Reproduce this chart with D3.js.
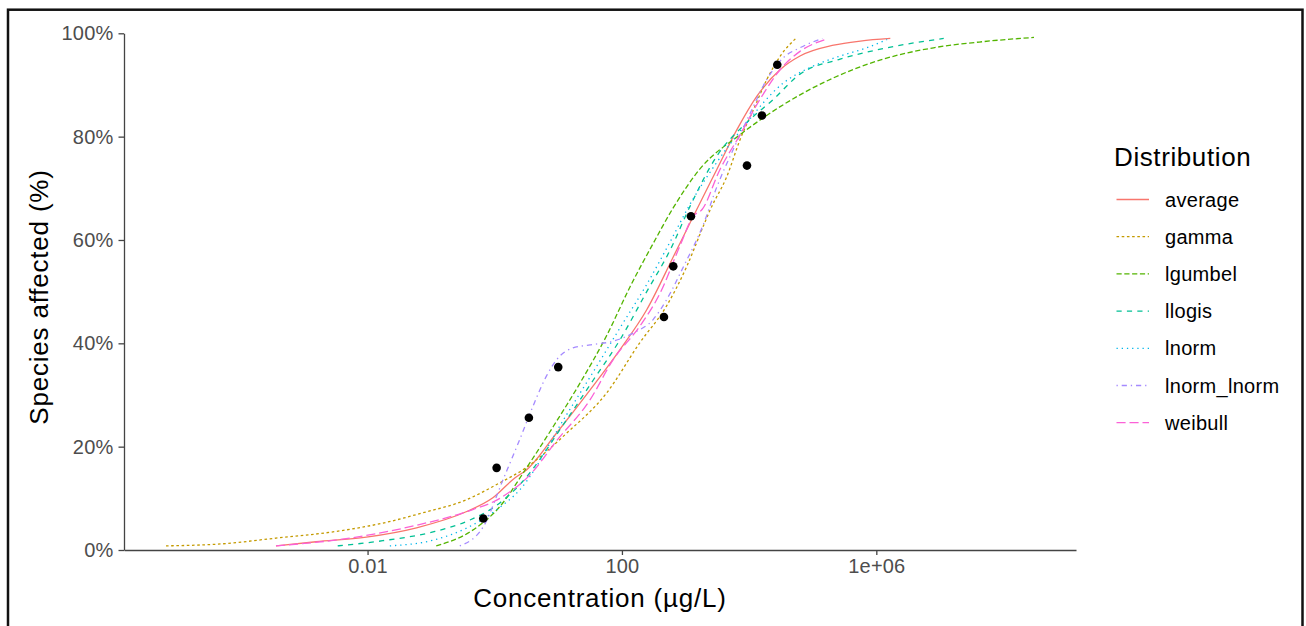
<!DOCTYPE html>
<html>
<head>
<meta charset="utf-8">
<script src="https://cdn.jsdelivr.net/npm/d3@7"></script>
<style>
  body { margin: 0; background: #fff; }
  svg text { font-family: "Liberation Sans", Arial, sans-serif; }
</style>
</head>
<body>
<div class="main"></div>
<script>
//// data (concentrations as log10 values, y as percent)
const distributions = ['average', 'gamma', 'lgumbel', 'llogis', 'lnorm', 'lnorm_lnorm', 'weibull'];
const colors = ['#F8766D', '#C49A00', '#53B400', '#00C094', '#00B6EB', '#A58AFF', '#FB61D7'];
const dashes = ['none', '2.6,2.6', '5.2,2.6', '5.2,5.2', '1.3,3.9', '1.3,3.9,5.2,3.9', '9.1,3.9'];

const averageLog = [-3.44, -2.81, -2.02, -1.23, -0.45, -0.03, 0.32, 0.50, 0.97, 1.50, 1.97, 2.39, 2.81, 3.07, 3.49, 3.81, 4.12, 4.49, 4.80, 5.33, 5.75, 6.22];
const averagePct = [0.8, 1.6, 2.5, 4.3, 7.4, 10.1, 14.0, 15.5, 22.6, 31.0, 38.8, 46.5, 56.8, 63.3, 73.6, 81.4, 87.8, 93.0, 95.6, 97.7, 98.5, 99.0];

const gammaLog = [-5.17, -4.28, -3.44, -2.49, -1.76, -1.13, -0.45, 0.08, 0.44, 1.13, 1.76, 2.28, 2.70, 3.02, 3.28, 3.39, 3.65, 3.86, 4.07, 4.28, 4.49, 4.75];
const gammaPct = [0.8, 1.2, 2.3, 3.6, 5.2, 7.2, 9.7, 13.0, 15.5, 22.6, 30.4, 40.1, 47.2, 54.9, 62.7, 65.9, 72.3, 79.5, 85.3, 91.1, 95.6, 99.2];

const lgumbelLog = [-0.92, -0.39, 0.08, 0.50, 0.92, 1.34, 1.76, 2.13, 2.49, 2.81, 3.23, 3.86, 4.54, 5.33, 6.11, 6.90, 7.69, 8.48];
const lgumbelPct = [0.8, 3.5, 8.4, 15.9, 23.9, 32.3, 41.5, 51.0, 59.3, 66.3, 73.8, 80.4, 86.2, 91.4, 95.0, 97.2, 98.4, 99.2];

const llogisLog = [-2.47, -1.76, -0.97, -0.39, 0.08, 0.39, 1.13, 1.55, 1.97, 2.39, 2.76, 3.07, 3.49, 3.96, 4.38, 4.80, 5.43, 6.17, 7.06];
const llogisPct = [0.8, 1.8, 3.5, 5.8, 9.1, 12.6, 25.2, 32.9, 40.7, 50.0, 58.1, 66.5, 76.2, 82.7, 87.2, 92.1, 95.0, 97.2, 99.0];

const lnormLog = [-1.65, -0.97, -0.45, 0.03, 0.39, 1.13, 1.55, 1.97, 2.39, 2.76, 3.07, 3.49, 3.88, 4.54, 4.96, 5.43, 5.85, 6.17];
const lnormPct = [0.8, 1.9, 4.2, 7.8, 11.6, 26.2, 34.5, 43.0, 51.4, 59.7, 66.9, 75.0, 81.4, 90.4, 93.4, 95.6, 97.2, 98.8];

const lnormLnormLog = [-0.55, -0.18, 0.13, 0.39, 0.60, 0.81, 1.02, 1.23, 1.50, 1.86, 2.18, 2.49, 2.70, 2.97, 3.28, 3.49, 3.75, 4.02, 4.28, 4.54, 4.80, 5.15];
const lnormLnormPct = [0.8, 4.5, 13.6, 21.3, 27.8, 33.6, 37.5, 39.1, 39.7, 40.4, 42.0, 44.6, 48.4, 54.9, 63.0, 70.2, 77.5, 84.6, 91.1, 95.3, 97.2, 99.0];

const weibullLog = [-3.44, -2.28, -1.23, -0.45, 0.08, 0.55, 0.97, 1.50, 1.86, 2.28, 2.60, 2.91, 3.12, 3.26, 3.54, 3.86, 4.17, 4.49, 4.80, 5.20];
const weibullPct = [0.8, 2.3, 4.8, 7.4, 10.0, 14.5, 21.1, 29.1, 36.8, 43.3, 49.7, 58.8, 64.6, 65.9, 73.6, 80.4, 87.2, 93.0, 96.5, 98.8];

const pointConc = [0.66, 1.07, 3.44, 9.96, 458, 641, 1217, 9250, 15900, 27700];
const pointPct = [6.1, 15.9, 25.6, 35.4, 45.1, 54.9, 64.6, 74.4, 84.1, 93.9];

const xTicks = [0.01, 100, 1e6];
const xTickLabels = ['0.01', '100', '1e+06'];
const yTicks = [0, 20, 40, 60, 80, 100];

const curves = [
  [averageLog, averagePct], [gammaLog, gammaPct], [lgumbelLog, lgumbelPct],
  [llogisLog, llogisPct], [lnormLog, lnormPct], [lnormLnormLog, lnormLnormPct],
  [weibullLog, weibullPct]
];

////layout
const width = 1306;
const height = 626;
const plotLeft = 124, plotRight = 1076, plotTop = 33.3, plotBottom = 550;

const svg = d3.select('.main').append('svg')
  .attr('width', width)
  .attr('height', height);

svg.append('rect')
  .attr('x', 8).attr('y', 9.7)
  .attr('width', 1294.5).attr('height', 700)
  .attr('fill', 'none')
  .attr('stroke', '#111')
  .attr('stroke-width', 2.5);

const xScale = d3.scaleLog()
  .domain([Math.pow(10, -5.83), Math.pow(10, 9.14)])
  .range([plotLeft, plotRight]);

const yScale = d3.scaleLinear()
  .domain([0, 100])
  .range([plotBottom, plotTop]);

const line = d3.line()
  .x(d => xScale(d[0]))
  .y(d => yScale(d[1]))
  .curve(d3.curveMonotoneX);

curves.forEach((c, i) => {
  const pts = c[0].map((v, j) => [Math.pow(10, v), c[1][j]]);
  svg.append('path')
    .datum(pts)
    .attr('fill', 'none')
    .attr('stroke', colors[i])
    .attr('stroke-width', 1.3)
    .attr('stroke-dasharray', dashes[i])
    .attr('d', line);
});

svg.selectAll('circle.pt')
  .data(pointConc.map((v, i) => [v, pointPct[i]]))
  .enter()
  .append('circle')
  .attr('class', 'pt')
  .attr('cx', d => xScale(d[0]))
  .attr('cy', d => yScale(d[1]))
  .attr('r', 4.3)
  .attr('fill', '#000');

////axes
const xAxis = d3.axisBottom(xScale)
  .tickValues(xTicks)
  .tickFormat((d, i) => xTickLabels[i])
  .tickSizeInner(5)
  .tickSizeOuter(0)
  .tickPadding(4);

const yAxis = d3.axisLeft(yScale)
  .tickValues(yTicks)
  .tickFormat(d => d + '%')
  .tickSizeInner(5.5)
  .tickSizeOuter(0)
  .tickPadding(5);

const gx = svg.append('g')
  .attr('id', 'x-axis')
  .attr('transform', `translate(0, ${plotBottom})`)
  .call(xAxis);

const gy = svg.append('g')
  .attr('id', 'y-axis')
  .attr('transform', `translate(${plotLeft}, 0)`)
  .call(yAxis);

[gx, gy].forEach(g => {
  g.select('.domain').attr('stroke', '#444').attr('stroke-width', 1.3);
  g.selectAll('.tick line').attr('stroke', '#444').attr('stroke-width', 1.3);
  g.selectAll('.tick text')
    .attr('fill', '#4d4d4d')
    .style('font-size', '20px')
    .style('letter-spacing', '0.2px');
});

svg.append('text')
  .attr('x', (plotLeft + plotRight) / 2)
  .attr('y', 607)
  .attr('text-anchor', 'middle')
  .style('font-size', '26px')
  .style('letter-spacing', '0.8px')
  .attr('fill', '#000')
  .text('Concentration (µg/L)');

svg.append('text')
  .attr('transform', `translate(48, 297) rotate(-90)`)
  .attr('text-anchor', 'middle')
  .style('font-size', '26px')
  .style('letter-spacing', '0.8px')
  .attr('fill', '#000')
  .text('Species affected (%)');

////legend
const legend = svg.append('g').attr('transform', 'translate(1114, 0)');

legend.append('text')
  .attr('x', 0)
  .attr('y', 166)
  .style('font-size', '26px')
  .style('letter-spacing', '0.6px')
  .attr('fill', '#000')
  .text('Distribution');

distributions.forEach((name, i) => {
  const y = 199.5 + i * 37.2;
  legend.append('line')
    .attr('x1', 2.5).attr('x2', 35)
    .attr('y1', y).attr('y2', y)
    .attr('stroke', colors[i])
    .attr('stroke-width', 1.3)
    .attr('stroke-dasharray', dashes[i]);
  legend.append('text')
    .attr('x', 51)
    .attr('y', y)
    .attr('dy', '0.35em')
    .style('font-size', '20px')
    .style('letter-spacing', '0.3px')
    .attr('fill', '#000')
    .text(name);
});
</script>
</body>
</html>
